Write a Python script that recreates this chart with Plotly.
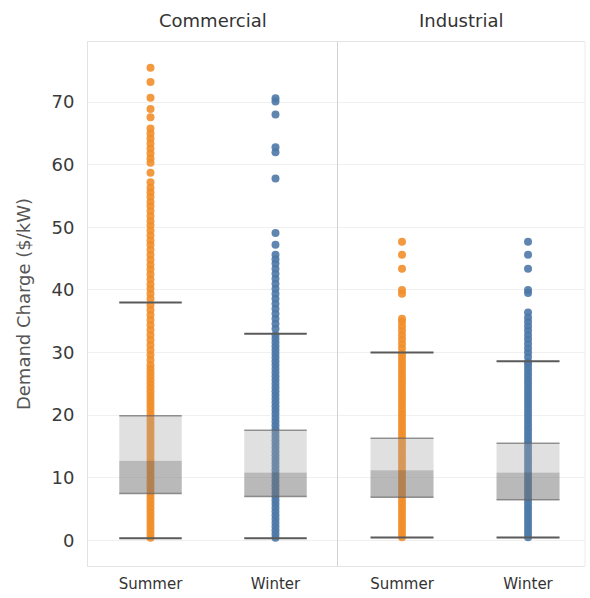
import plotly.graph_objects as go
from plotly.subplots import make_subplots

# ---- data -------------------------------------------------------------
segments = ["Commercial", "Industrial"]
seasons = ["Summer", "Winter"]
season_colors = ["#F28E2B", "#4E79A7"]
y_ticks = [0, 10, 20, 30, 40, 50, 60, 70]

# demand charges ($/kW) by segment and season
commercial_summer = [
    0.4, 1.0, 1.6, 2.2, 2.8, 3.4, 4.0, 4.6, 5.2, 5.8, 6.4, 7.0, 7.6, 8.2, 8.8,
    9.4, 10.0, 10.6, 11.2, 11.8, 12.4, 13.0, 13.6, 14.2, 14.8, 15.4, 16.0,
    16.6, 17.2, 17.8, 18.4, 19.0, 19.6, 20.2, 20.8, 21.4, 22.0, 22.6, 23.2,
    23.8, 24.4, 25.0, 25.6, 26.2, 26.8, 27.4, 28.0, 28.8, 29.6, 30.4, 31.2,
    32.0, 32.8, 33.6, 34.4, 35.2, 36.0, 36.8, 37.6, 38.6, 39.4, 40.2, 40.9,
    41.7, 42.5, 43.3, 44.0, 44.8, 45.6, 46.4, 47.2, 47.9, 48.7, 49.5, 50.3,
    51.0, 51.8, 52.6, 53.4, 54.1, 54.9, 55.6, 56.3, 57.2, 58.7, 60.3, 61.0,
    61.8, 62.6, 63.4, 64.2, 65.0, 65.8, 67.6, 68.9, 70.7, 73.2, 75.5,
]
commercial_winter = [
    0.4, 1.0, 1.6, 2.2, 2.8, 3.4, 4.0, 4.6, 5.2, 5.8, 6.4, 7.0, 7.6, 8.2, 8.8,
    9.4, 10.0, 10.6, 11.2, 11.8, 12.4, 13.0, 13.6, 14.2, 14.8, 15.4, 16.0,
    16.6, 17.2, 17.8, 18.4, 19.0, 19.6, 20.2, 20.8, 21.4, 22.0, 22.6, 23.2,
    23.8, 24.4, 25.0, 25.6, 26.2, 26.8, 27.4, 28.0, 28.6, 29.2, 29.8, 30.4,
    31.0, 31.6, 32.2, 32.8, 33.8, 34.6, 35.4, 36.2, 37.0, 37.8, 38.6, 39.4,
    40.2, 41.0, 41.8, 42.6, 43.4, 44.2, 44.9, 45.6, 47.2, 49.1, 57.8, 62.0,
    62.8, 68.0, 70.1, 70.6,
]
industrial_summer = [
    0.5, 1.1, 1.7, 2.3, 2.9, 3.5, 4.1, 4.7, 5.3, 5.9, 6.5, 7.1, 7.7, 8.3, 8.9,
    9.5, 10.1, 10.7, 11.3, 11.9, 12.5, 13.1, 13.7, 14.3, 14.9, 15.5, 16.1,
    16.7, 17.3, 17.9, 18.5, 19.1, 19.7, 20.3, 20.9, 21.5, 22.1, 22.7, 23.3,
    23.9, 24.5, 25.1, 25.7, 26.3, 26.9, 27.5, 28.1, 28.7, 29.3, 29.9, 30.7,
    31.4, 32.1, 32.8, 33.5, 34.2, 34.9, 35.4, 39.4, 40.0, 43.4, 45.6, 47.7,
]
industrial_winter = [
    0.5, 1.1, 1.7, 2.3, 2.9, 3.5, 4.1, 4.7, 5.3, 5.9, 6.5, 7.1, 7.7, 8.3, 8.9,
    9.5, 10.1, 10.7, 11.3, 11.9, 12.5, 13.1, 13.7, 14.3, 14.9, 15.5, 16.1,
    16.7, 17.3, 17.9, 18.5, 19.1, 19.7, 20.3, 20.9, 21.5, 22.1, 22.7, 23.3,
    23.9, 24.5, 25.1, 25.7, 26.3, 26.9, 27.5, 28.1, 28.5, 29.3, 30.0, 30.7,
    31.4, 32.1, 32.8, 33.5, 34.2, 34.9, 35.6, 36.4, 39.5, 40.0, 43.4, 45.6,
    47.7,
]

# box statistics: lower whisker, Q1, median, Q3, upper whisker
commercial_summer_box = [0.35, 7.5, 12.7, 19.9, 38.0]
commercial_winter_box = [0.35, 7.0, 10.85, 17.6, 33.0]
industrial_summer_box = [0.45, 6.9, 11.2, 16.3, 30.0]
industrial_winter_box = [0.45, 6.5, 10.85, 15.5, 28.6]

panels = [
    [(commercial_summer, commercial_summer_box), (commercial_winter, commercial_winter_box)],
    [(industrial_summer, industrial_summer_box), (industrial_winter, industrial_winter_box)],
]

FONT = "DejaVu Sans"
BOX_HALF = 0.25

fig = make_subplots(rows=1, cols=2, shared_yaxes=True, horizontal_spacing=0)

for p, panel in enumerate(panels):
    col = p + 1
    # strip of dots for each season
    for i, (vals, _) in enumerate(panel):
        fig.add_trace(
            go.Scatter(
                x=[i] * len(vals), y=vals, mode="markers",
                marker=dict(size=8, color=season_colors[i], opacity=0.9, line=dict(width=0)),
                hoverinfo="y", showlegend=False,
            ),
            row=1, col=col,
        )
    # translucent box bands and whiskers drawn over the dots
    for i, (_, stats) in enumerate(panel):
        lo, q1, med, q3, hi = stats
        x0, x1 = i - BOX_HALF, i + BOX_HALF
        fig.add_trace(
            go.Scatter(
                x=[x0, x1, x1, x0, x0], y=[q1, q1, med, med, q1],
                mode="lines", fill="toself", fillcolor="rgba(115,115,115,0.5)",
                line=dict(width=0), hoverinfo="skip", showlegend=False,
            ),
            row=1, col=col,
        )
        fig.add_trace(
            go.Scatter(
                x=[x0, x1, x1, x0, x0], y=[med, med, q3, q3, med],
                mode="lines", fill="toself", fillcolor="rgba(165,165,165,0.35)",
                line=dict(width=0), hoverinfo="skip", showlegend=False,
            ),
            row=1, col=col,
        )
        fig.add_trace(
            go.Scatter(
                x=[x0, x1, None, x0, x1], y=[q1, q1, None, q3, q3],
                mode="lines", line=dict(color="rgba(95,95,95,0.65)", width=1.5),
                hoverinfo="skip", showlegend=False,
            ),
            row=1, col=col,
        )
        fig.add_trace(
            go.Scatter(
                x=[x0, x1, None, x0, x1], y=[lo, lo, None, hi, hi],
                mode="lines", line=dict(color="#5a5a5a", width=2),
                hoverinfo="skip", showlegend=False,
            ),
            row=1, col=col,
        )

x_common = dict(
    tickvals=[0, 1], ticktext=seasons, showgrid=False, zeroline=False,
    showline=True, linecolor="#e3e3e3", mirror=True,
    ticks="outside", ticklen=4, tickcolor="rgba(0,0,0,0)",
    tickfont=dict(family=FONT, size=15, color="#333333"),
)
y_common = dict(
    range=[-4.1, 79.6], tickvals=y_ticks, showgrid=True, gridcolor="#f0f0f0",
    zeroline=False,
)

fig.update_layout(
    width=590, height=598,
    margin=dict(l=88, r=5, t=42, b=24),
    plot_bgcolor="white", paper_bgcolor="white",
    font=dict(family=FONT, color="#333333"),
    xaxis=dict(domain=[0, 0.503], range=[-0.5, 1.5], **x_common),
    xaxis2=dict(domain=[0.503, 1], range=[-0.508, 1.452], **x_common),
    yaxis=dict(
        **y_common, showline=True, linecolor="#e3e3e3",
        ticks="outside", ticklen=9, tickcolor="rgba(0,0,0,0)",
        tickfont=dict(family=FONT, size=18, color="#3a3a3a"),
        title=dict(text="Demand Charge ($/kW)", standoff=16,
                   font=dict(family=FONT, size=18, color="#555555")),
    ),
    yaxis2=dict(**y_common, showline=True, linecolor="#d2d2d2", showticklabels=False),
    showlegend=False,
)

# faint right border of the second pane
fig.add_shape(type="line", xref="x2 domain", yref="y2 domain", x0=1, x1=1, y0=0, y1=1,
              line=dict(color="#ececec", width=1))

# pane headers
for p, name in enumerate(segments):
    fig.add_annotation(
        text=name, xref=("x domain" if p == 0 else "x2 domain"), x=0.5,
        yref="paper", y=1, yanchor="bottom", yshift=9, showarrow=False,
        font=dict(family=FONT, size=18, color="#333333"),
    )

fig.write_html("out.html")
